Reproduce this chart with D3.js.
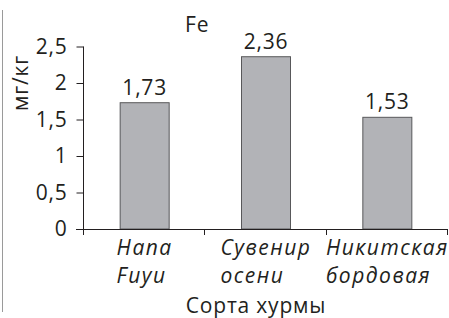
<!DOCTYPE html>
<html>
<head>
<meta charset="utf-8">
<script src="https://cdn.jsdelivr.net/npm/d3@7"></script>
<style>
  body { margin: 0; background: #fff; }
  svg { display: block; font-family: "Open Sans", sans-serif; }
</style>
</head>
<body>
<svg width="449" height="318"></svg>
<script>
const categories = [["Hana", "Fuyu"], ["Сувенир", "осени"], ["Никитская", "бордовая"]];
const values = [1.73, 2.36, 1.53];
const valueLabels = ["1,73", "2,36", "1,53"];
const yTicks = [0, 0.5, 1, 1.5, 2, 2.5];
const yTickLabels = ["0", "0,5", "1", "1,5", "2", "2,5"];

const svg = d3.select("svg");
const fontSize = 21;
const spacing = 0.8;
const ink = "#231f20";

const x = d3.scaleBand()
  .domain(d3.range(categories.length))
  .range([84, 448])
  .paddingInner(0)
  .paddingOuter(0);

const y = d3.scaleLinear().domain([0, 2.5]).range([229, 46.5]);

// left frame line
svg.append("line")
  .attr("x1", 2.5).attr("x2", 2.5)
  .attr("y1", 10).attr("y2", 312)
  .attr("stroke", "#9a9a9a").attr("stroke-width", 1);

// bars
svg.append("g")
  .selectAll("rect")
  .data(values)
  .join("rect")
  .attr("x", (d, i) => x(i) + x.bandwidth() / 2 - 24.5)
  .attr("width", 49)
  .attr("y", d => y(d))
  .attr("height", d => y(0) - y(d))
  .attr("fill", "#b2b3b7")
  .attr("stroke", "#58585a")
  .attr("stroke-width", 1);

// value labels
svg.append("g")
  .selectAll("text")
  .data(values)
  .join("text")
  .attr("x", (d, i) => x(i) + x.bandwidth() / 2)
  .attr("y", d => y(d) - 8)
  .attr("text-anchor", "middle")
  .attr("font-size", fontSize)
  .attr("letter-spacing", spacing)
  .attr("fill", ink)
  .text((d, i) => valueLabels[i]);

// y axis
const yAxis = svg.append("g")
  .attr("transform", "translate(83.5,0)")
  .call(d3.axisLeft(y).tickValues(yTicks).tickSize(7).tickPadding(9)
    .tickFormat((d, i) => yTickLabels[i]));
yAxis.select(".domain").attr("d", `M0,${y(2.5)}V${y(0) + 6}`).attr("stroke", ink);
yAxis.selectAll(".tick line").attr("stroke", ink);
yAxis.selectAll(".tick text")
  .attr("font-size", fontSize)
  .attr("letter-spacing", spacing)
  .attr("font-family", "Open Sans, sans-serif")
  .attr("fill", ink);

// x axis
const bounds = d3.range(categories.length + 1).map(i => i < categories.length ? x(i) : x.range()[1]);
const xAxis = svg.append("g");
xAxis.append("line")
  .attr("x1", 76).attr("x2", x.range()[1])
  .attr("y1", y(0) + 0.5).attr("y2", y(0) + 0.5)
  .attr("stroke", ink);
xAxis.selectAll("line.tk")
  .data(bounds.slice(1))
  .join("line")
  .attr("class", "tk")
  .attr("x1", d => Math.round(d) - 0.5).attr("x2", d => Math.round(d) - 0.5)
  .attr("y1", y(0)).attr("y2", y(0) + 6)
  .attr("stroke", ink);

// category labels (block centred on band, lines left aligned)
categories.forEach((lines, i) => {
  const t = svg.append("text")
    .attr("font-size", fontSize)
    .attr("font-style", "italic")
    .attr("letter-spacing", 1.5)
    .attr("fill", ink);
  lines.forEach((ln, j) => {
    t.append("tspan").attr("y", 255 + j * 28).text(ln);
  });
  let w = 0;
  t.selectAll("tspan").each(function () { w = Math.max(w, this.getComputedTextLength()); });
  t.selectAll("tspan").attr("x", x(i) + x.bandwidth() / 2 - w / 2);
});

// title
svg.append("text")
  .attr("x", 185).attr("y", 32)
  .attr("font-size", fontSize)
  .attr("letter-spacing", spacing)
  .attr("fill", ink)
  .text("Fe");

// axis titles
svg.append("text")
  .attr("transform", "translate(28,83) rotate(-90)")
  .attr("text-anchor", "middle")
  .attr("font-size", fontSize)
  .attr("letter-spacing", spacing)
  .attr("fill", ink)
  .text("мг/кг");

svg.append("text")
  .attr("x", 256).attr("y", 313)
  .attr("text-anchor", "middle")
  .attr("font-size", fontSize)
  .attr("letter-spacing", spacing)
  .attr("fill", ink)
  .text("Сорта хурмы");
</script>
</body>
</html>
